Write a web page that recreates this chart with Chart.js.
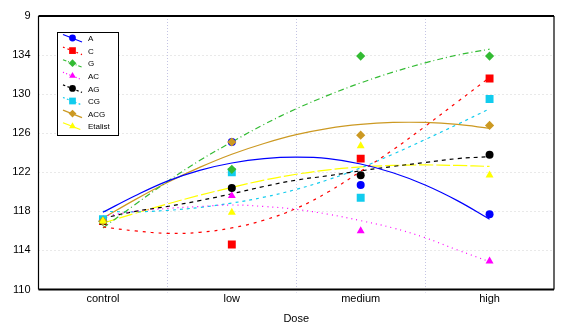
<!DOCTYPE html>
<html>
<head>
<meta charset="utf-8">
<script src="https://cdn.jsdelivr.net/npm/chart.js@4/dist/chart.umd.min.js"></script>
<style>
  html, body { margin: 0; padding: 0; background: #fff; }
  #wrap { width: 570px; height: 331px; }
</style>
</head>
<body>
<div id="wrap"><canvas id="dose" width="570" height="331"></canvas></div>
<script>
// ── Data ─────────────────────────────────────────────────────
const doses = ["control", "low", "medium", "high"];
const yTicks = [110, 114, 118, 122, 126, 130, 134, 138];
const yTickLabels = ["110", "114", "118", "122", "126", "130", "134", "9"];

// measured group means
const ptA       = [117.1, 125.1, 120.7, 117.7];
const ptC       = [117.0, 114.6, 123.4, 131.6];
const ptG       = [117.0, 122.3, 133.9, 133.9];
const ptAC      = [117.1, 119.6, 116.0, 112.9];
const ptAG      = [117.0, 120.4, 121.7, 123.8];
const ptCG      = [117.2, 122.0, 119.4, 129.5];
const ptACG     = [117.0, 125.1, 125.8, 126.8];
const ptEtalist = [117.0, 117.9, 124.7, 121.7];

// fitted trend curves, read at quarter steps between doses
const fitX       = [0, 0.25, 0.5, 0.75, 1, 1.25, 1.5, 1.75, 2, 2.25, 2.5, 2.75, 3];
const fitA       = [117.9, 119.6, 121.1, 122.2, 122.95, 123.4, 123.55, 123.4, 122.85, 121.95, 120.7, 119.1, 117.2];
const fitC       = [116.4, 116.0, 115.75, 115.85, 116.3, 117.1, 118.3, 120.0, 122.1, 124.3, 126.7, 129.2, 131.7];
const fitG       = [116.3, 118.7, 121.05, 123.2, 125.1, 126.9, 128.5, 129.9, 131.15, 132.25, 133.2, 134.0, 134.6];
const fitAC      = [117.5, 118.0, 118.3, 118.5, 118.65, 118.5, 118.2, 117.7, 117.05, 116.3, 115.3, 114.05, 112.85];
const fitAG      = [117.3, 118.0, 118.5, 119.1, 119.8, 120.55, 121.2, 121.65, 122.15, 122.6, 123.0, 123.4, 123.6];
const fitCG      = [118.0, 117.95, 118.1, 118.4, 118.85, 119.45, 120.25, 121.25, 122.45, 123.85, 125.35, 126.9, 128.5];
const fitACG     = [117.3, 119.2, 120.95, 122.5, 123.85, 124.95, 125.85, 126.5, 126.9, 127.1, 127.1, 126.9, 126.5];
const fitEtalist = [116.8, 117.8, 118.75, 119.65, 120.45, 121.2, 121.8, 122.25, 122.55, 122.7, 122.75, 122.7, 122.6];

// ── Series styles ────────────────────────────────────────────
const series = [
    { name: "A",       pts: ptA,       fit: fitA,       color: "#0000ff", dash: [],           shape: "circle",   r: 4 },
    { name: "C",       pts: ptC,       fit: fitC,       color: "#ff0000", dash: [3, 5],       shape: "rect",     r: 5.6 },
    { name: "G",       pts: ptG,       fit: fitG,       color: "#33bb33", dash: [6, 3, 1, 3], shape: "rectRot",  r: 4.6 },
    { name: "AC",      pts: ptAC,      fit: fitAC,      color: "#ff00ff", dash: [1, 4],       shape: "triangle", r: 4.6 },
    { name: "AG",      pts: ptAG,      fit: fitAG,      color: "#000000", dash: [4, 4],       shape: "circle",   r: 4 },
    { name: "CG",      pts: ptCG,      fit: fitCG,      color: "#11ccee", dash: [3, 4],       shape: "rect",     r: 5.6 },
    { name: "ACG",     pts: ptACG,     fit: fitACG,     color: "#cc9922", dash: [],           shape: "rectRot",  r: 4.6 },
    { name: "Etalist", pts: ptEtalist, fit: fitEtalist, color: "#ffff00", dash: [14, 3],      shape: "triangle", r: 4.6 }
];

// which markers end up on top where they overlap
const topFirst = ["Etalist", "ACG", "G", "CG", "AG", "AC", "C", "A"];

const datasets = [];
topFirst.forEach(name => {
    const s = series.find(x => x.name === name);
    datasets.push({
        label: s.name,
        data: s.pts,
        xAxisID: "x",
        showLine: false,
        order: 0,
        pointStyle: s.shape,
        pointRadius: s.r,
        pointHoverRadius: s.r,
        pointBackgroundColor: s.color,
        pointBorderColor: s.color,
        pointBorderWidth: 0
    });
});
series.forEach(s => {
    datasets.push({
        label: s.name + " fit",
        data: fitX.map((x, i) => ({ x: x, y: s.fit[i] })),
        xAxisID: "x2",
        order: 1,
        borderColor: s.color,
        borderWidth: 1.2,
        borderDash: s.dash,
        pointRadius: 0,
        tension: 0.4,
        fill: false
    });
});

// ── Plugins: dotted grid, frame, inset legend ────────────────
const gridPlugin = {
    id: "dottedGrid",
    beforeDatasetsDraw(chart) {
        const a = chart.chartArea, c = chart.ctx;
        const ys = chart.scales.y, xs = chart.scales.x2;
        c.save();
        c.lineWidth = 1;
        c.strokeStyle = "#d2d2d2";
        c.setLineDash([1, 3]);
        yTicks.slice(1, -1).forEach(v => {
            const py = Math.round(ys.getPixelForValue(v)) + 0.5;
            c.beginPath(); c.moveTo(a.left, py); c.lineTo(a.right, py); c.stroke();
        });
        c.strokeStyle = "#c4c4e4";
        c.setLineDash([1, 2]);
        for (let i = 0; i < doses.length - 1; i++) {
            const px = Math.round(xs.getPixelForValue(i + 0.5)) + 0.5;
            c.beginPath(); c.moveTo(px, a.top); c.lineTo(px, a.bottom + 3); c.stroke();
        }
        c.restore();
    }
};

const framePlugin = {
    id: "frame",
    afterDraw(chart) {
        const a = chart.chartArea, c = chart.ctx;
        c.save();
        c.strokeStyle = "#000";
        c.lineWidth = 2;
        c.beginPath();
        c.moveTo(a.left, a.top); c.lineTo(a.right, a.top);
        c.moveTo(a.left, a.bottom); c.lineTo(a.right, a.bottom);
        c.stroke();
        c.lineWidth = 1.2;
        c.beginPath();
        c.moveTo(a.left, a.top); c.lineTo(a.left, a.bottom);
        c.moveTo(a.right, a.top); c.lineTo(a.right, a.bottom);
        c.stroke();
        c.restore();
    }
};

const legendPlugin = {
    id: "insetLegend",
    afterDraw(chart) {
        const c = chart.ctx;
        const bx = 57, by = 32, bw = 61, bh = 103, step = 12.6;
        c.save();
        c.fillStyle = "#fff";
        c.fillRect(bx, by, bw, bh);
        c.strokeStyle = "#000";
        c.lineWidth = 1;
        c.strokeRect(bx + 0.5, by + 0.5, bw, bh);
        series.forEach((s, i) => {
            const y = 39 + i * step;
            c.strokeStyle = s.color;
            c.lineWidth = 1.2;
            c.setLineDash(s.dash.length ? s.dash.map(d => Math.max(1, d * 0.6)) : []);
            c.beginPath();
            c.moveTo(63, y - 4.5);
            c.lineTo(82, y + 3);
            c.stroke();
            c.setLineDash([]);
            c.fillStyle = s.color;
            Chart.helpers.drawPoint(c, { pointStyle: s.shape, radius: s.r * 0.85, rotation: 0, borderWidth: 0 }, 72.5, y - 1);
            c.fillStyle = "#000";
            c.font = "8px 'Liberation Sans', Arial, sans-serif";
            c.textBaseline = "middle";
            c.textAlign = "left";
            c.fillText(s.name, 88, y);
        });
        c.restore();
    }
};

// ── Chart ────────────────────────────────────────────────────
const font = { family: "'Liberation Sans', Arial, sans-serif", size: 11 };

new Chart(document.getElementById("dose"), {
    type: "line",
    data: { labels: doses, datasets: datasets },
    plugins: [gridPlugin, framePlugin, legendPlugin],
    options: {
        responsive: false,
        animation: false,
        devicePixelRatio: 1,
        layout: { padding: { left: 0, right: 16, top: 16, bottom: 0 } },
        plugins: { legend: { display: false }, tooltip: { enabled: false } },
        scales: {
            x: {
                type: "category",
                offset: true,
                grid: { display: false, drawTicks: false },
                border: { display: false },
                ticks: { color: "#000", font: font, padding: 3, maxRotation: 0 },
                title: { display: true, text: "Dose", color: "#000", font: font, padding: { top: 4, bottom: 5 } },
                afterFit(scale) { scale.height = 41.5; }
            },
            x2: {
                type: "linear",
                display: false,
                min: -0.5,
                max: 3.5
            },
            y: {
                min: 110,
                max: 138,
                afterBuildTicks(scale) { scale.ticks = yTicks.map(v => ({ value: v })); },
                grid: { display: false, drawTicks: false },
                border: { display: false },
                ticks: {
                    color: "#000",
                    font: font,
                    padding: 8,
                    callback: v => yTickLabels[yTicks.indexOf(v)]
                },
                afterFit(scale) { scale.width = 38.5; }
            }
        }
    }
});
</script>
</body>
</html>
